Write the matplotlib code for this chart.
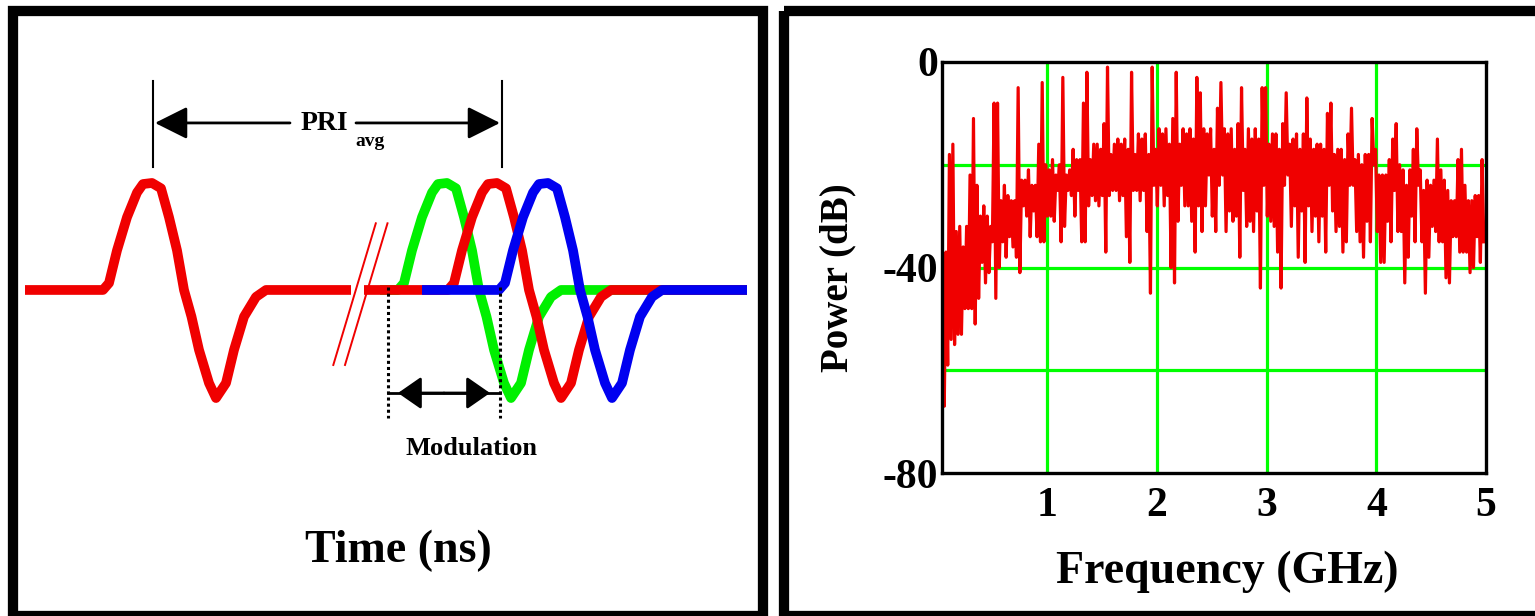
import matplotlib
matplotlib.use("Agg")
import matplotlib.pyplot as plt
import numpy as np
from matplotlib.patches import Rectangle


FIG_W, FIG_H = 1535, 616
DPI = 100
SERIF = ["Liberation Serif", "DejaVu Serif"]

# ---- left panel: pulse train sketch (time in ns, amplitude normalised) ----
PULSE_T = [0.00, 0.06, 0.14, 0.24, 0.34, 0.40, 0.49, 0.58, 0.66, 0.74,
           0.81, 0.885, 0.96, 1.06, 1.13, 1.23, 1.31, 1.41, 1.53, 1.63]
PULSE_A = [0.0, 0.065, 0.37, 0.68, 0.91, 0.99, 1.0, 0.95, 0.68, 0.37,
           0.0, -0.25, -0.56, -0.87, -1.01, -0.87, -0.56, -0.25, -0.065, 0.0]

TRACE_COLORS = ["#f00000", "#00f000", "#f00000", "#0000f0"]
TRACE_LINE_START = [0.25, 3.80, 3.64, 4.22]
TRACE_PULSE_START = [1.03, 3.98, 4.48, 4.99]
TRACE_LINE_END = [3.51, 7.47, 7.47, 7.47]

PRI_MARKS = [1.53, 5.02]
MOD_MARKS = [3.88, 5.00]

# ---- right panel: power spectrum, per column peak / dip in dB ----
SPEC_TOP = [
    -45, -37, -18, -16, -33, -32, -36, -32, -22, -11,
    -24, -30, -28, -30, -32, -8, -8, -27, -24, -26,
    -27, -27, -5, -23, -23, -21, -24, -24, -16, -4,
    -20, -21, -19, -22, -20, -3, -22, -21, -17, -19,
    -19, -8, -2, -19, -16, -16, -17, -12, -1, -18,
    -16, -15, -16, -15, -17, -2, -18, -14, -15, -14,
    -18, -1, -17, -13, -14, -13, -16, -11, -2, -16,
    -13, -14, -13, -15, -3, -6, -13, -14, -13, -17,
    -9, -4, -13, -14, -13, -17, -12, -5, -17, -13,
    -15, -13, -15, -5, -5, -16, -14, -14, -17, -12,
    -6, -16, -15, -14, -17, -14, -7, -15, -17, -16,
    -16, -17, -10, -8, -18, -17, -17, -19, -14, -9,
    -19, -18, -20, -18, -18, -11, -17, -22, -22, -22,
    -19, -15, -12, -20, -21, -24, -21, -17, -13, -21,
    -25, -23, -24, -23, -15, -21, -23, -25, -27, -27,
    -19, -17, -24, -27, -27, -26, -26, -19,
]
SPEC_BOTTOM = [
    -67, -59, -54, -55, -53, -53, -48, -48, -48, -51,
    -46, -39, -43, -41, -35, -46, -40, -35, -38, -34,
    -36, -38, -41, -28, -30, -34, -29, -34, -35, -35,
    -30, -30, -31, -25, -35, -32, -25, -26, -30, -25,
    -35, -35, -28, -26, -27, -28, -26, -37, -26, -25,
    -25, -27, -26, -34, -39, -25, -25, -27, -25, -33,
    -45, -24, -28, -24, -28, -26, -40, -43, -31, -24,
    -28, -28, -31, -37, -28, -33, -28, -22, -30, -33,
    -24, -22, -33, -29, -31, -30, -38, -25, -32, -31,
    -33, -29, -44, -24, -30, -31, -32, -37, -44, -24,
    -22, -32, -28, -38, -29, -39, -28, -33, -30, -35,
    -30, -37, -24, -29, -33, -32, -37, -35, -24, -24,
    -33, -35, -38, -31, -35, -20, -33, -39, -39, -31,
    -35, -25, -33, -33, -43, -38, -30, -35, -24, -35,
    -45, -38, -32, -33, -35, -35, -42, -43, -34, -34,
    -37, -37, -37, -41, -40, -34, -39, -35,
]
SPEC_F_START = 0.045
SPEC_F_END = 4.98

X_TICKS = [1, 2, 3, 4, 5]
Y_TICKS = [-80, -40, 0]
X_GRID = [1, 2, 3, 4]
Y_GRID = [-60, -40, -20]


def draw_frames(fig):
    overlay = fig.add_axes([0, 0, 1, 1], zorder=10)
    overlay.set_xlim(0, FIG_W)
    overlay.set_ylim(FIG_H, 0)
    overlay.axis("off")
    overlay.patch.set_alpha(0)
    overlay.add_patch(Rectangle((13, 10.5), 750, 605.5, fill=False, ec="black",
                                lw=7.4, joinstyle="miter"))
    overlay.add_patch(Rectangle((784, 10.5), 770, 605.5, fill=False, ec="black",
                                lw=7.4, joinstyle="miter"))


def draw_pulses(fig):
    ax = fig.add_axes([0, 0, 768 / FIG_W, 1])
    ax.set_xlim(0, 7.68)
    ax.set_ylim(-3.047, 2.71)
    ax.axis("off")

    for color, start, pulse, end in zip(
        TRACE_COLORS, TRACE_LINE_START, TRACE_PULSE_START, TRACE_LINE_END
    ):
        t = [start] + [pulse + v for v in PULSE_T] + [end]
        a = [0.0] + PULSE_A + [0.0]
        ax.plot(t, a, color=color, lw=7.0, solid_capstyle="butt",
                solid_joinstyle="round")

    # axis break marks
    for x0 in [3.333, 3.45]:
        ax.plot([x0, x0 + 0.425], [-0.701, 0.623], color="#f00000", lw=1.4)

    # PRI dimension
    for x in PRI_MARKS:
        ax.plot([x, x], [1.15, 1.953], color="black", lw=1.5)
    arrow_kw = dict(arrowstyle="-|>,head_length=1.0,head_width=0.5",
                    color="black", lw=2.0, mutation_scale=20,
                    shrinkA=0, shrinkB=0)
    ax.annotate("", xy=(PRI_MARKS[0] + 0.02, 1.561), xytext=(2.90, 1.561),
                arrowprops=arrow_kw)
    ax.annotate("", xy=(PRI_MARKS[1] - 0.02, 1.561), xytext=(3.56, 1.561),
                arrowprops=arrow_kw)
    ax.text(3.24, 1.56, "PRI", fontfamily=SERIF, fontweight="bold",
            fontsize=20, ha="center", va="center")
    ax.text(3.70, 1.39, "avg", fontfamily=SERIF, fontweight="bold",
            fontsize=14, ha="center", va="center")

    # modulation window
    for x in MOD_MARKS:
        ax.plot([x, x], [0.028, -1.196], color="black", lw=2.2,
                linestyle=(0, (1.0, 1.0)))
    ax.plot(MOD_MARKS, [-0.963, -0.963], color="black", lw=2.0)
    mod_kw = dict(arrowstyle="-|>,head_length=0.72,head_width=0.5",
                  color="black", lw=2.0, mutation_scale=20,
                  shrinkA=0, shrinkB=0)
    mid = sum(MOD_MARKS) / 2
    ax.annotate("", xy=(MOD_MARKS[0] + 0.10, -0.963), xytext=(mid, -0.963),
                arrowprops=mod_kw)
    ax.annotate("", xy=(MOD_MARKS[1] - 0.10, -0.963), xytext=(mid, -0.963),
                arrowprops=mod_kw)
    ax.text(4.72, -1.477, "Modulation", fontfamily=SERIF, fontweight="bold",
            fontsize=19, ha="center", va="center")

    ax.text(3.98, -2.44, "Time (ns)", fontfamily=SERIF, fontweight="bold",
            fontsize=33, ha="center", va="center")


def draw_spectrum(fig):
    left, right, top, bottom = 942, 1486, 62, 473
    ax = fig.add_axes([left / FIG_W, 1 - bottom / FIG_H,
                       (right - left) / FIG_W, (bottom - top) / FIG_H])

    levels = np.column_stack([SPEC_TOP, SPEC_BOTTOM]).ravel()
    freqs = np.linspace(SPEC_F_START, SPEC_F_END, levels.size)

    for x in X_GRID:
        ax.axvline(x, color="#00ff00", lw=2.3, zorder=1)
    for y in Y_GRID:
        ax.axhline(y, color="#00ff00", lw=2.3, zorder=1)

    ax.plot(freqs, levels, color="#f00000", lw=2.3, zorder=2)

    ax.set_xlim(0.04, 5.0)
    ax.set_ylim(-80, 0)
    ax.set_xticks(X_TICKS)
    ax.set_xticklabels([str(v) for v in X_TICKS])
    ax.set_yticks(Y_TICKS)
    ax.set_yticklabels([str(v) for v in Y_TICKS])
    ax.tick_params(length=0, labelsize=30)
    ax.tick_params(axis="x", pad=10)
    ax.tick_params(axis="y", pad=3)
    for label in ax.get_xticklabels() + ax.get_yticklabels():
        label.set_fontfamily(SERIF)
        label.set_fontweight("bold")
    for spine in ax.spines.values():
        spine.set_linewidth(2.4)
        spine.set_zorder(3)

    fig.text(1227 / FIG_W, 1 - 572 / FIG_H, "Frequency (GHz)",
             fontfamily=SERIF, fontweight="bold", fontsize=33,
             ha="center", va="center")
    fig.text(838 / FIG_W, 1 - 278 / FIG_H, "Power (dB)",
             fontfamily=SERIF, fontweight="bold", fontsize=28,
             rotation=90, ha="center", va="center")


def main():
    fig = plt.figure(figsize=(FIG_W / DPI, FIG_H / DPI), dpi=DPI)
    fig.patch.set_facecolor("white")

    draw_pulses(fig)
    draw_spectrum(fig)
    draw_frames(fig)

    fig.savefig("out.png", dpi=DPI, facecolor="white")
    plt.close(fig)


if __name__ == "__main__":
    main()
